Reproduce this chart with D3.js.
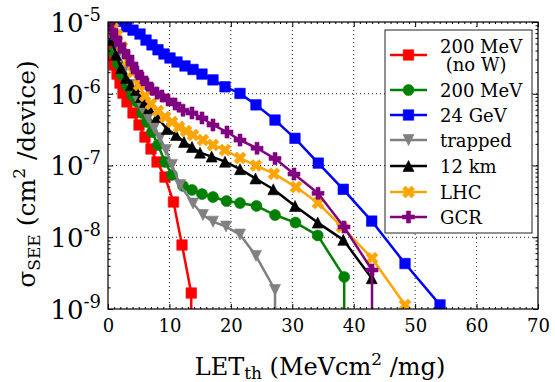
<!DOCTYPE html>
<html>
<head>
<meta charset="utf-8">
<script src="https://cdn.jsdelivr.net/npm/d3@7"></script>
<style>
  body { margin: 0; background: #fff; }
  text { font-family: "DejaVu Serif", serif; fill: #000; }
</style>
</head>
<body>
<div id="chart"></div>
<script>
// LET threshold (MeV cm2/mg) and cross section (cm2/device) per spectrum.
// a 0 at the end means the curve drops to zero (line goes down off the axis)
const let200noW = [0.16, 0.49, 0.98, 1.47, 1.95, 2.44, 3.09, 4.07, 5.05, 6.02, 7.00, 7.98, 9.28, 10.66, 12.05, 13.55, 13.55];
const sig200noW = [4.5e-6, 3.5e-6, 2.52e-6, 1.88e-6, 1.41e-6, 1.02e-6, 7.7e-7, 5.4e-7, 3.67e-7, 2.49e-7, 1.70e-7, 1.12e-7, 6.9e-8, 3.1e-8, 7.8e-9, 1.67e-9, 0];

const let200 = [0.08, 0.49, 0.98, 1.63, 2.28, 3.09, 3.91, 4.72, 5.53, 6.35, 7.16, 8.14, 9.28, 10.42, 12.21, 13.67, 15.30, 17.09, 19.29, 21.49, 24.17, 27.19, 30.52, 34.14, 38.45, 38.45];
const sig200 = [8.2e-6, 5.6e-6, 3.8e-6, 2.6e-6, 1.82e-6, 1.28e-6, 9.6e-7, 7.7e-7, 5.4e-7, 4.04e-7, 2.93e-7, 1.93e-7, 1.12e-7, 7.4e-8, 5.2e-8, 4.56e-8, 4.0e-8, 3.64e-8, 3.2e-8, 3.0e-8, 2.73e-8, 2.04e-8, 1.60e-8, 1.06e-8, 2.8e-9, 0];

const let24G = [1.1, 2.0, 3.04, 4.07, 5.21, 6.19, 7.16, 8.14, 9.12, 10.09, 11.23, 12.53, 13.84, 15.30, 17.09, 19.05, 21.49, 24.09, 27.19, 30.44, 34.23, 38.30, 42.93, 48.35, 54.05];
const sig24G = [1.15e-5, 1.02e-5, 8.6e-6, 7.7e-6, 6.8e-6, 5.6e-6, 4.8e-6, 4.1e-6, 3.58e-6, 3.15e-6, 2.77e-6, 2.44e-6, 2.18e-6, 1.88e-6, 1.56e-6, 1.25e-6, 1.01e-6, 7.0e-7, 4.3e-7, 2.39e-7, 1.08e-7, 4.66e-8, 1.68e-8, 4.3e-9, 1.14e-9];

const letTrapped = [0.16, 0.81, 1.63, 2.60, 3.58, 4.56, 5.53, 6.51, 7.49, 8.47, 9.44, 10.42, 11.72, 13.84, 15.46, 17.09, 19.21, 21.49, 24.09, 27.19, 27.19];
const sigTrapped = [8.5e-6, 5.6e-6, 3.5e-6, 2.08e-6, 1.32e-6, 9.0e-7, 6.3e-7, 4.6e-7, 3.33e-7, 2.42e-7, 1.64e-7, 1.02e-7, 5.35e-8, 2.95e-8, 2.04e-8, 1.65e-8, 1.41e-8, 1.09e-8, 5.5e-9, 1.84e-9, 0];

const let12km = [0.16, 0.65, 1.30, 2.12, 2.93, 3.74, 4.56, 5.37, 6.02, 6.67, 7.98, 9.60, 11.07, 12.37, 13.67, 14.98, 16.88, 19.05, 21.49, 24.01, 26.91, 30.44, 34.14, 38.30, 42.93];
const sig12km = [9.1e-6, 5.6e-6, 3.5e-6, 2.29e-6, 1.66e-6, 1.32e-6, 1.13e-6, 9.0e-7, 7.7e-7, 6.3e-7, 4.74e-7, 3.23e-7, 2.66e-7, 2.13e-7, 1.81e-7, 1.51e-7, 1.33e-7, 1.13e-7, 8.9e-8, 6.6e-8, 4.66e-8, 2.73e-8, 1.60e-8, 9.2e-9, 2.68e-9];

const letLHC = [0.16, 0.81, 1.47, 2.28, 3.26, 4.07, 5.05, 6.02, 7.00, 8.14, 9.28, 10.42, 11.56, 12.70, 13.84, 15.46, 17.09, 19.05, 21.49, 24.09, 27.02, 30.60, 34.19, 38.09, 42.98, 48.35];
const sigLHC = [1.0e-5, 8.2e-6, 6.6e-6, 4.5e-6, 2.86e-6, 2.01e-6, 1.32e-6, 9.3e-7, 7.2e-7, 5.75e-7, 4.74e-7, 4.04e-7, 3.44e-7, 3.03e-7, 2.66e-7, 2.26e-7, 1.93e-7, 1.64e-7, 1.27e-7, 1.0e-7, 7.7e-8, 5.0e-8, 3.0e-8, 1.39e-8, 5.1e-9, 1.14e-9];

const letGCR = [0.16, 0.65, 1.30, 1.95, 2.60, 3.26, 3.91, 4.72, 5.53, 6.35, 7.16, 7.98, 8.79, 9.77, 10.91, 12.21, 13.67, 15.30, 17.09, 19.37, 21.49, 24.26, 27.19, 30.28, 34.19, 38.42, 42.98, 42.98];
const sigGCR = [9.7e-6, 7.7e-6, 6.0e-6, 4.8e-6, 3.9e-6, 3.25e-6, 2.6e-6, 2.01e-6, 1.66e-6, 1.37e-6, 1.16e-6, 1.02e-6, 9.3e-7, 8.2e-7, 7.2e-7, 5.9e-7, 5.4e-7, 4.6e-7, 3.67e-7, 2.93e-7, 2.26e-7, 1.74e-7, 1.25e-7, 7.6e-8, 4.1e-8, 1.39e-8, 3.5e-9, 0];

const legendLabels = [["200 MeV", " (no W)"], ["200 MeV"], ["24 GeV"], ["trapped"], ["12 km"], ["LHC"], ["GCR"]];
const xTicks = [0, 10, 20, 30, 40, 50, 60, 70];
const yTicks = [1e-9, 1e-8, 1e-7, 1e-6, 1e-5];

// styles, same order as legend
const colors = ["#ff0000", "#008000", "#0000ff", "#808080", "#000000", "#ffa500", "#800080"];
const markers = ["square", "circle", "square", "tri-down", "tri-up", "x", "plus"];
const markerSize = [10.5, 11, 10.5, 11, 11, 12, 12];
const lets = [let200noW, let200, let24G, letTrapped, let12km, letLHC, letGCR];
const sigs = [sig200noW, sig200, sig24G, sigTrapped, sig12km, sigLHC, sigGCR];

const width = 555, height = 382;
const box = {left: 108, top: 22, right: 538, bottom: 309};

let svg = d3.select("#chart").append("svg")
    .attr("width", width)
    .attr("height", height);

let x = d3.scaleLinear().domain([0, 70]).range([box.left, box.right]);
let y = d3.scaleLog().domain([1e-9, 1e-5]).range([box.bottom, box.top]);

// zero cross section is drawn below the axis (clipped)
let yPos = function(v) { return v > 0 ? y(v) : y(1e-10); };

let markerPath = function(kind, s) {
    let h = s / 2;
    let pts;
    switch (kind) {
        case "square": return `M${-h},${-h}H${h}V${h}H${-h}Z`;
        case "circle": return d3.symbol(d3.symbolCircle, Math.PI * h * h)();
        case "tri-up": return `M0,${-h}L${h},${h}L${-h},${h}Z`;
        case "tri-down": return `M0,${h}L${h},${-h}L${-h},${-h}Z`;
        case "plus":
            pts = [[-1,-3],[1,-3],[1,-1],[3,-1],[3,1],[1,1],[1,3],[-1,3],[-1,1],[-3,1],[-3,-1],[-1,-1]]
                .map(p => [p[0] * s / 6, p[1] * s / 6]);
            return "M" + pts.join("L") + "Z";
        case "x":
            pts = [[-1,-2],[0,-1],[1,-2],[2,-1],[1,0],[2,1],[1,2],[0,1],[-1,2],[-2,1],[-1,0],[-2,-1]]
                .map(p => [p[0] * s / 4, -p[1] * s / 4]);
            return "M" + pts.join("L") + "Z";
    }
};

svg.append("defs").append("clipPath").attr("id", "plotclip")
    .append("rect")
    .attr("x", box.left).attr("y", box.top)
    .attr("width", box.right - box.left).attr("height", box.bottom - box.top);

// grid
let grid = svg.append("g");
grid.selectAll(".gx").data(xTicks.slice(1, -1)).join("line")
    .attr("x1", d => x(d)).attr("x2", d => x(d))
    .attr("y1", box.top).attr("y2", box.bottom)
    .attr("stroke", "#222").attr("stroke-width", 1).attr("stroke-dasharray", "1,3");
grid.selectAll(".gy").data(yTicks.slice(1, -1)).join("line")
    .attr("y1", d => y(d)).attr("y2", d => y(d))
    .attr("x1", box.left).attr("x2", box.right)
    .attr("stroke", "#222").attr("stroke-width", 1).attr("stroke-dasharray", "1,3");

// curves
let plot = svg.append("g").attr("clip-path", "url(#plotclip)");
let line = d3.line().x(d => x(d[0])).y(d => yPos(d[1]));
lets.forEach(function(xs, i) {
    let pts = xs.map((v, j) => [v, sigs[i][j]]);
    let g = plot.append("g");
    g.append("path")
        .attr("d", line(pts))
        .attr("fill", "none")
        .attr("stroke", colors[i])
        .attr("stroke-width", 2.5)
        .attr("stroke-linejoin", "round");
    g.selectAll("path.mk").data(pts.filter(p => p[1] > 0)).join("path")
        .attr("class", "mk")
        .attr("transform", d => `translate(${x(d[0])},${y(d[1])})`)
        .attr("d", markerPath(markers[i], markerSize[i]))
        .attr("fill", colors[i])
        .attr("stroke", colors[i])
        .attr("stroke-width", 0.6);
});

// axes, ticks pointing inwards on all four sides
let minorX = d3.range(0, 70.01, 1).filter(v => v % 10 !== 0);
let minorY = [];
for (let e = -9; e < -5; e++) for (let k = 2; k < 10; k++) minorY.push(k * Math.pow(10, e));

let styleAxis = function(g) {
    g.select(".domain").remove();
    g.selectAll("line").attr("stroke", "#000").attr("stroke-width", 1);
};

svg.append("g").attr("transform", `translate(0,${box.bottom})`)
    .call(d3.axisBottom(x).tickValues(xTicks).tickSizeInner(-5).tickSizeOuter(0).tickPadding(10))
    .call(styleAxis)
    .call(g => g.selectAll("text").attr("font-size", 18).attr("font-family", "DejaVu Serif"));
svg.append("g").attr("transform", `translate(0,${box.bottom})`)
    .call(d3.axisBottom(x).tickValues(minorX).tickSizeInner(-2).tickSizeOuter(0).tickFormat(""))
    .call(styleAxis);
svg.append("g").attr("transform", `translate(0,${box.top})`)
    .call(d3.axisTop(x).tickValues(xTicks).tickSizeInner(-5).tickSizeOuter(0).tickFormat(""))
    .call(styleAxis);
svg.append("g").attr("transform", `translate(0,${box.top})`)
    .call(d3.axisTop(x).tickValues(minorX).tickSizeInner(-2).tickSizeOuter(0).tickFormat(""))
    .call(styleAxis);

let leftAxis = svg.append("g").attr("transform", `translate(${box.left},0)`)
    .call(d3.axisLeft(y).tickValues(yTicks).tickSizeInner(-5).tickSizeOuter(0).tickPadding(7).tickFormat(""))
    .call(styleAxis);
leftAxis.selectAll(".tick text").each(function(d) {
    let t = d3.select(this).attr("font-size", 26).attr("font-family", "DejaVu Serif").attr("dy", "0.36em");
    t.append("tspan").text("10");
    t.append("tspan").attr("font-size", 18).attr("dy", -11).text("-" + Math.round(-Math.log10(d)));
});
svg.append("g").attr("transform", `translate(${box.left},0)`)
    .call(d3.axisLeft(y).tickValues(minorY).tickSizeInner(-2.5).tickSizeOuter(0).tickFormat(""))
    .call(styleAxis);
svg.append("g").attr("transform", `translate(${box.right},0)`)
    .call(d3.axisRight(y).tickValues(yTicks).tickSizeInner(-5).tickSizeOuter(0).tickFormat(""))
    .call(styleAxis);
svg.append("g").attr("transform", `translate(${box.right},0)`)
    .call(d3.axisRight(y).tickValues(minorY).tickSizeInner(-2.5).tickSizeOuter(0).tickFormat(""))
    .call(styleAxis);

// frame
svg.append("rect")
    .attr("x", box.left).attr("y", box.top)
    .attr("width", box.right - box.left).attr("height", box.bottom - box.top)
    .attr("fill", "none").attr("stroke", "#000").attr("stroke-width", 1.2);

// axis labels
let xl = svg.append("text")
    .attr("x", (box.left + box.right) / 2 - 3).attr("y", 375)
    .attr("text-anchor", "middle").attr("font-size", 24);
xl.append("tspan").text("LET");
xl.append("tspan").attr("font-size", 17).attr("dy", 4).text("th");
xl.append("tspan").attr("dy", -4).text(" (MeVcm");
xl.append("tspan").attr("font-size", 17).attr("dy", -10).text("2");
xl.append("tspan").attr("dy", 10).text(" /mg)");

let yl = svg.append("text")
    .attr("transform", "translate(35,174) rotate(-90)")
    .attr("text-anchor", "middle").attr("font-size", 25);
yl.append("tspan").text("σ");
yl.append("tspan").attr("font-size", 17).attr("dy", 5).text("SEE");
yl.append("tspan").attr("dy", -5).text(" (cm");
yl.append("tspan").attr("font-size", 17).attr("dy", -10).text("2");
yl.append("tspan").attr("dy", 10).text(" /device)");

// legend
let lg = svg.append("g");
lg.append("rect")
    .attr("x", 385).attr("y", 30).attr("width", 147).attr("height", 203)
    .attr("fill", "#fff").attr("stroke", "#222").attr("stroke-width", 1);
let rowY = [55, 90, 115, 140, 166, 192, 217];
legendLabels.forEach(function(lab, i) {
    let cy = rowY[i];
    lg.append("line")
        .attr("x1", 390).attr("x2", 427).attr("y1", cy).attr("y2", cy)
        .attr("stroke", colors[i]).attr("stroke-width", 2.5);
    lg.append("path")
        .attr("transform", `translate(408.5,${cy})`)
        .attr("d", markerPath(markers[i], markerSize[i]))
        .attr("fill", colors[i]).attr("stroke", colors[i]).attr("stroke-width", 0.6);
    let top = cy - (lab.length - 1) * 9;
    lab.forEach(function(s, k) {
        lg.append("text")
            .attr("x", 440).attr("y", top + k * 18 + 6.5)
            .attr("font-size", 18)
            .attr("xml:space", "preserve")
            .style("white-space", "pre")
            .text(s);
    });
});
</script>
</body>
</html>
